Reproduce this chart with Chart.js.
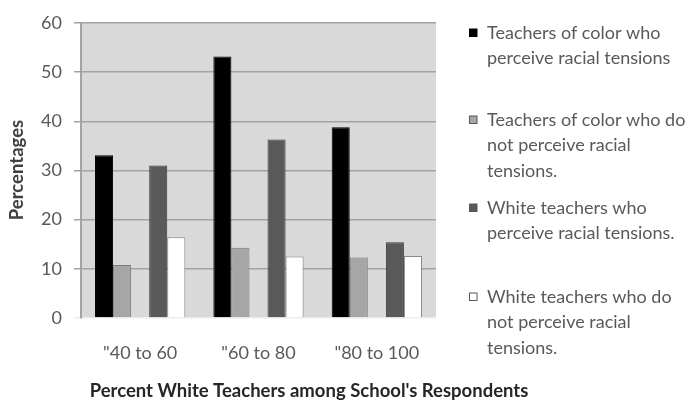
<!DOCTYPE html>
<html>
<head>
<meta charset="utf-8">
<script src="https://cdn.jsdelivr.net/npm/chart.js@4.4.1/dist/chart.umd.min.js"></script>
<style>
  html, body { margin: 0; padding: 0; background: #ffffff; }
  #wrap { width: 691px; height: 401px; position: relative; }
</style>
</head>
<body>
<div id="wrap"><canvas id="chart" width="691" height="401"></canvas></div>
<script>
// Share of respondents (%) by school's percentage of white teachers
const categories = ['"40 to 60', '"60 to 80', '"80 to 100'];
const colorPerceive = [33.1, 53.2, 38.8];
const colorNotPerceive = [10.8, 14.3, 12.3];
const whitePerceive = [31.0, 36.3, 15.4];
const whiteNotPerceive = [16.4, 12.5, 12.6];
const yTicks = [0, 10, 20, 30, 40, 50, 60];

const seriesNames = [
  ['Teachers of color who', 'perceive racial tensions'],
  ['Teachers of color who do', 'not perceive racial', 'tensions.'],
  ['White teachers who', 'perceive racial tensions.'],
  ['White teachers who do', 'not perceive racial', 'tensions.']
];
const yTitle = 'Percentages';
const xTitle = "Percent White Teachers among School's Respondents";

const FONT = 'Lato, "Open Sans", sans-serif';
const fills = ['#000000', '#a6a6a6', '#595959', '#ffffff'];
const borders = ['#000000', '#7a7a7a', '#3a3a3a', '#8a8a8a'];

// Grey plot background
const plotBg = {
  id: 'plotBg',
  beforeDraw(chart) {
    const { ctx, chartArea: a } = chart;
    ctx.save();
    ctx.fillStyle = '#d9d9d9';
    ctx.fillRect(a.left, a.top, a.right - a.left, a.bottom - a.top);
    ctx.restore();
  }
};

// Axis titles and the wrapped legend on the right
const extras = {
  id: 'extras',
  afterDraw(chart) {
    const { ctx } = chart;
    ctx.save();
    ctx.fillStyle = '#404040';
    ctx.font = 'bold 18.5px ' + FONT;
    ctx.textAlign = 'center';
    ctx.textBaseline = 'middle';
    ctx.translate(17, 170);
    ctx.rotate(-Math.PI / 2);
    ctx.fillText(yTitle, 0, 0);
    ctx.restore();

    ctx.save();
    ctx.fillStyle = '#262626';
    ctx.font = 'bold 18.5px ' + FONT;
    ctx.textAlign = 'center';
    ctx.textBaseline = 'middle';
    ctx.fillText(xTitle, 309, 391);
    ctx.restore();

    // legend
    const itemTops = [33, 120, 208, 297];
    const lineGap = 25.5;
    ctx.save();
    ctx.font = '18px ' + FONT;
    ctx.textAlign = 'left';
    ctx.textBaseline = 'middle';
    seriesNames.forEach((lines, i) => {
      const y0 = itemTops[i];
      ctx.fillStyle = fills[i];
      ctx.fillRect(469.5, y0 - 4, 7.5, 7.5);
      ctx.strokeStyle = borders[i] === '#000000' ? '#000000' : '#595959';
      ctx.lineWidth = 1;
      ctx.strokeRect(469.5, y0 - 4, 7.5, 7.5);
      ctx.fillStyle = '#595959';
      lines.forEach((t, k) => ctx.fillText(t, 487, y0 + k * lineGap));
    });
    ctx.restore();
  }
};

const datasets = [
  { data: colorPerceive, backgroundColor: fills[0], borderColor: borders[0] },
  { data: colorNotPerceive, backgroundColor: fills[1], borderColor: borders[1] },
  { data: categories.map(() => null), backgroundColor: 'rgba(0,0,0,0)', borderColor: 'rgba(0,0,0,0)' },
  { data: whitePerceive, backgroundColor: fills[2], borderColor: borders[2] },
  { data: whiteNotPerceive, backgroundColor: fills[3], borderColor: borders[3] }
].map(d => Object.assign(d, { borderWidth: 1, borderSkipped: 'bottom' }));

new Chart(document.getElementById('chart'), {
  type: 'bar',
  data: { labels: categories, datasets },
  options: {
    responsive: false,
    animation: false,
    devicePixelRatio: 1,
    layout: { padding: { left: 0, top: 23, right: 255, bottom: 0 } },
    datasets: { bar: { categoryPercentage: 0.763, barPercentage: 1.0 } },
    plugins: { legend: { display: false }, tooltip: { enabled: false } },
    scales: {
      x: {
        afterFit(s) { s.height = 83; },
        grid: { display: false, drawTicks: false },
        border: { display: false },
        ticks: { color: '#595959', font: { family: FONT, size: 18 }, padding: 24, maxRotation: 0 }
      },
      y: {
        min: 0, max: 60,
        afterFit(s) { s.width = 81; },
        afterBuildTicks(s) { s.ticks = yTicks.map(v => ({ value: v })); },
        grid: {
          color: ctx => (ctx.tick && ctx.tick.value === 0) ? '#ececec' : '#a3a3a3',
          lineWidth: 1.5,
          tickLength: 7
        },
        border: { display: true, color: '#a3a3a3', width: 2 },
        ticks: { color: '#595959', font: { family: FONT, size: 18 }, padding: 12 }
      }
    }
  },
  plugins: [plotBg, extras]
});
</script>
</body>
</html>
